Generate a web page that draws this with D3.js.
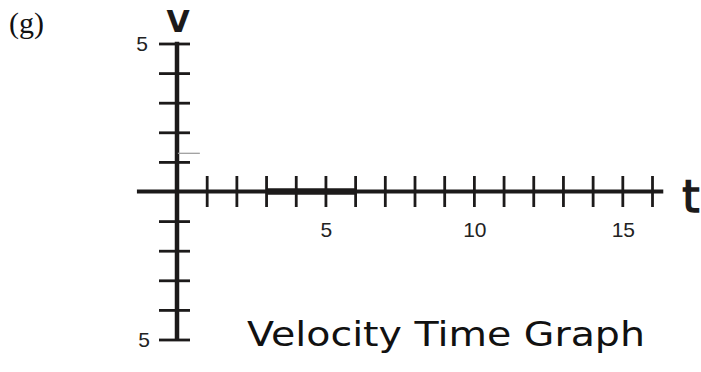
<!DOCTYPE html>
<html><head><meta charset="utf-8">
<script src="https://cdn.jsdelivr.net/npm/d3@7"></script>
<style>html,body{margin:0;padding:0;background:#fff;}svg{display:block;}</style>
</head><body>
<script>
// ---- data ----
const xTicks = [0,1,2,3,4,5,6,7,8,9,10,11,12,13,14,15,16];
const xTickLabels = [5, 10, 15];
const yTicks = [-5,-4,-3,-2,-1,1,2,3,4,5];
const yTickLabels = [5, -5];
const yTickLabelText = ["5", "5"];
const segT = [3, 6];          // thick drawn segment on the time axis
const segV = [0, 0];
const markT = [0.03, 0.77];   // faint grey mark near the v axis
const markV = [1.29, 1.29];
const title = "Velocity Time Graph";
const panelLabel = "(g)";

const W = 701, H = 372;
const svg = d3.select("body").append("svg").attr("width", W).attr("height", H);
const x = d3.scaleLinear().domain([0, 16]).range([177, 652]);
const y = d3.scaleLinear().domain([-5, 5]).range([339.5, 43.5]);
const ink = "#1c1a1a";

// panel label
svg.append("text").attr("x", 9).attr("y", 33)
  .attr("font-family", "Liberation Serif, serif").attr("font-size", 30)
  .attr("fill", "#111").text(panelLabel);

// x axis
const xg = svg.append("g").attr("transform", `translate(0,${y(0)})`)
  .call(d3.axisBottom(x).tickValues(xTicks).tickSize(15.5).tickFormat(""));
xg.select(".domain").remove();
xg.selectAll(".tick line").attr("y1", -15.5).attr("y2", 15.5)
  .attr("stroke", ink).attr("stroke-width", 2.8);
svg.append("line").attr("x1", x(-1.35)).attr("x2", x(16.38))
  .attr("y1", y(0)).attr("y2", y(0)).attr("stroke", ink).attr("stroke-width", 4);

// y axis
const yg = svg.append("g").attr("transform", `translate(${x(0)},0)`)
  .call(d3.axisLeft(y).tickValues(yTicks).tickSize(18).tickFormat(""));
yg.select(".domain").remove();
yg.selectAll(".tick line").attr("x1", -18).attr("x2", 13)
  .attr("stroke", ink).attr("stroke-width", 2.8);
svg.append("line").attr("x1", x(0)).attr("x2", x(0))
  .attr("y1", y(5.06)).attr("y2", y(-5.02)).attr("stroke", ink).attr("stroke-width", 4.5);

// tick labels
svg.append("g").selectAll("text").data(xTickLabels).join("text")
  .attr("x", d => x(d) + 1).attr("y", 236.5).attr("text-anchor", "middle")
  .attr("font-family", "Liberation Sans, Arial, sans-serif").attr("font-size", 21)
  .attr("fill", "#222").text(d => d);
svg.append("g").selectAll("text").data(yTickLabels).join("text")
  .attr("x", (d, i) => i === 0 ? 148 : 150).attr("y", d => y(d) + 7.5).attr("text-anchor", "end")
  .attr("font-family", "Liberation Sans, Arial, sans-serif").attr("font-size", 21)
  .attr("fill", "#222").text((d, i) => yTickLabelText[i]);

// drawn segment
const line = d3.line().x(d => x(d[0])).y(d => y(d[1]));
svg.append("path").datum(segT.map((t, i) => [t, segV[i]])).attr("d", line)
  .attr("stroke", ink).attr("stroke-width", 6.5).attr("fill", "none");
svg.append("path").datum(markT.map((t, i) => [t, markV[i]])).attr("d", line)
  .attr("stroke", "#a0a0a0").attr("stroke-width", 1.3).attr("fill", "none");

// axis names
svg.append("text").attr("x", 178).attr("y", 32).attr("text-anchor", "middle")
  .attr("font-family", "DejaVu Sans, sans-serif").attr("font-size", 30).attr("font-weight", "bold")
  .attr("fill", ink).text("V");
svg.append("text").attr("x", 691).attr("y", 212).attr("text-anchor", "middle")
  .attr("font-family", "DejaVu Sans, sans-serif").attr("font-size", 44)
  .attr("fill", ink).attr("stroke", ink).attr("stroke-width", 1.5).text("t");

// title
svg.append("text").attr("x", 247).attr("y", 346)
  .attr("font-family", "DejaVu Sans, sans-serif").attr("font-size", 34)
  .attr("textLength", 398).attr("lengthAdjust", "spacingAndGlyphs")
  .attr("fill", "#111").text(title);
</script>
</body></html>
